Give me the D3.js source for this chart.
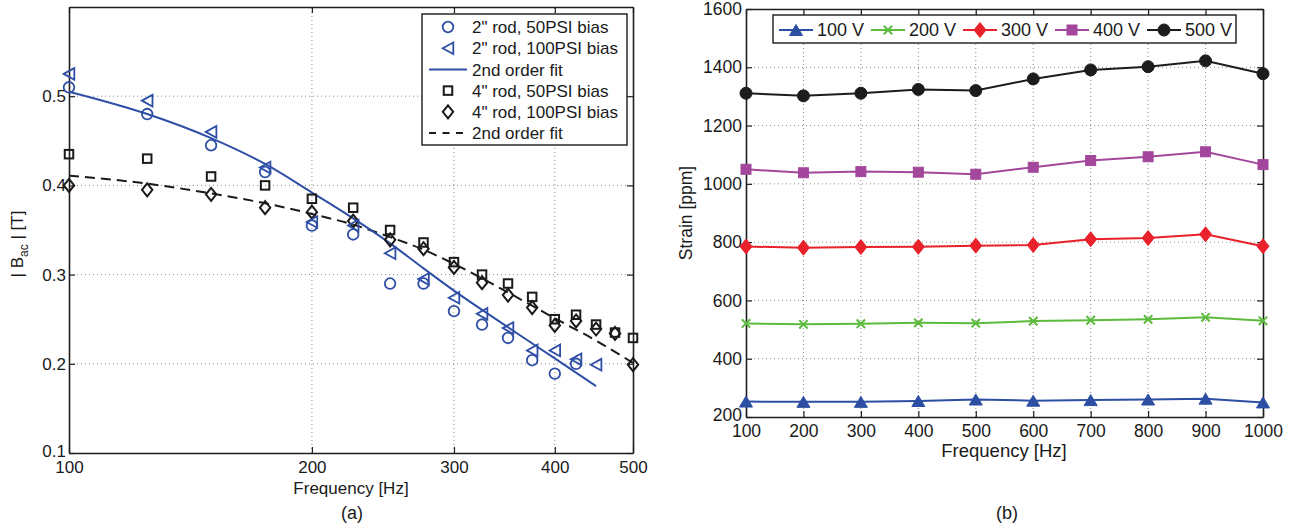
<!DOCTYPE html>
<html>
<head>
<meta charset="utf-8">
<script src="https://cdn.jsdelivr.net/npm/d3@7"></script>
<style>
  html, body { margin: 0; padding: 0; background: #fff; }
  svg { display: block; font-family: "Liberation Sans", Arial, Helvetica, sans-serif; }
</style>
</head>
<body>
<svg id="chart" width="1292" height="528"></svg>
<script>
// ---------------- DATA: left panel (a) ----------------
const freq2in50 = [100,125,150,175,200,225,250,275,300,325,350,375,400,425];
const bac2in50  = [0.51,0.48,0.445,0.415,0.355,0.345,0.29,0.29,0.259,0.244,0.229,0.204,0.189,0.2];
const freq2in100 = [100,125,150,175,200,225,250,275,300,325,350,375,400,425,450];
const bac2in100  = [0.525,0.495,0.46,0.42,0.359,0.355,0.324,0.295,0.274,0.256,0.24,0.215,0.215,0.205,0.199];
const fitFreq2in = [100,125,150,175,200,225,250,275,300,350,400,450];
const fitBac2in  = [0.505,0.480,0.453,0.424,0.392,0.363,0.335,0.307,0.282,0.241,0.206,0.175];
const freq4in = [100,125,150,175,200,225,250,275,300,325,350,375,400,425,450,475,500];
const bac4in50  = [0.435,0.43,0.41,0.40,0.385,0.375,0.35,0.336,0.314,0.30,0.29,0.275,0.25,0.255,0.244,0.235,0.229];
const bac4in100 = [0.40,0.395,0.39,0.375,0.37,0.36,0.339,0.329,0.308,0.291,0.277,0.263,0.243,0.248,0.239,0.234,0.199];
const fitFreq4in = [100,125,150,175,200,225,250,275,300,350,400,450,500];
const fitBac4in  = [0.411,0.402,0.391,0.380,0.368,0.356,0.342,0.328,0.312,0.280,0.251,0.226,0.201];
const xTicksA = [100,200,300,400,500];
const yTicksA = [0.1,0.2,0.3,0.4,0.5];
const legendA = ['2" rod, 50PSI bias','2" rod, 100PSI bias','2nd order fit','4" rod, 50PSI bias','4" rod, 100PSI bias','2nd order fit'];

// ---------------- DATA: right panel (b) ----------------
const freqB = [100,200,300,400,500,600,700,800,900,1000];
const strain100V = [253,252,252,255,260,256,258,260,263,250];
const strain200V = [521,518,520,523,522,529,532,535,542,530];
const strain300V = [785,781,783,784,788,790,810,814,827,786];
const strain400V = [1050,1038,1042,1040,1033,1057,1080,1093,1110,1066];
const strain500V = [1311,1302,1311,1324,1320,1360,1391,1402,1422,1378];
const seriesNamesB = ['100 V','200 V','300 V','400 V','500 V'];
const xTicksB = [100,200,300,400,500,600,700,800,900,1000];
const yTicksB = [200,400,600,800,1000,1200,1400,1600];

// ---------------- STYLE ----------------
const BLUE = '#2f4fa6', AXC = '#1e1e1e', GRID = '#8a8a8a';
const colorsB = ['#2c4ea3','#5cba3d','#e8212b','#a2479c','#1c1c1c'];
const svg = d3.select('#chart');

function drawFrame(g, x, y, xt, yt, fs, xFmt, yFmt, pad) {
  const [x0, x1] = x.range(), [y0, y1] = y.range();
  g.append('g').selectAll('line').data(xt.filter(d => x(d) > x0 + 1 && x(d) < x1 - 1)).join('line')
    .attr('x1', d => x(d)).attr('x2', d => x(d)).attr('y1', y0).attr('y2', y1)
    .attr('stroke', GRID).attr('stroke-width', 1).attr('stroke-dasharray', '1,3');
  g.append('g').selectAll('line').data(yt.filter(d => y(d) < y0 - 1 && y(d) > y1 + 1)).join('line')
    .attr('y1', d => y(d)).attr('y2', d => y(d)).attr('x1', x0).attr('x2', x1)
    .attr('stroke', GRID).attr('stroke-width', 1).attr('stroke-dasharray', '1,3');
  const ax = [
    g.append('g').attr('transform', `translate(0,${y0})`).call(d3.axisBottom(x).tickValues(xt).tickFormat(xFmt).tickSizeInner(-6).tickSizeOuter(0).tickPadding(pad.x)),
    g.append('g').attr('transform', `translate(0,${y1})`).call(d3.axisTop(x).tickValues(xt).tickFormat('').tickSizeInner(-6).tickSizeOuter(0)),
    g.append('g').attr('class', 'yleft').attr('transform', `translate(${x0},0)`).call(d3.axisLeft(y).tickValues(yt).tickFormat(yFmt).tickSizeInner(-6).tickSizeOuter(0).tickPadding(pad.y)),
    g.append('g').attr('transform', `translate(${x1},0)`).call(d3.axisRight(y).tickValues(yt).tickFormat('').tickSizeInner(-6).tickSizeOuter(0))
  ];
  ax.forEach(a => {
    a.select('.domain').attr('stroke', AXC).attr('stroke-width', 1.6);
    a.selectAll('.tick line').attr('stroke', AXC).attr('stroke-width', 1.2);
    a.selectAll('.tick text').attr('fill', '#1a1a1a').style('font-size', fs + 'px').style('font-family', '"Liberation Sans", Arial, sans-serif');
  });
  // lowest y label sits slightly above the corner, as in the original
  ax[2].selectAll('.tick text').filter(d => d === yt[0]).attr('dy', '0.2em');
}

function triLeft(w, h) { return `M${-w},0L${w},${-h}L${w},${h}Z`; }
function triUp(w, h) { return `M0,${-h}L${w},${h}L${-w},${h}Z`; }
function diamond(w, h) { return `M0,${-h}L${w},0L0,${h}L${-w},0Z`; }

function marker(g, type, cx, cy, color, filled) {
  const fill = filled ? color : 'none';
  const sw = filled ? 1 : 1.8;
  if (type === 'circle') {
    g.append('circle').attr('cx', cx).attr('cy', cy).attr('r', filled ? 6 : 5.3)
      .attr('fill', fill).attr('stroke', color).attr('stroke-width', sw);
  } else if (type === 'triLeft') {
    g.append('path').attr('d', triLeft(5.3, 5.8)).attr('transform', `translate(${cx},${cy})`)
      .attr('fill', fill).attr('stroke', color).attr('stroke-width', sw).attr('stroke-linejoin', 'miter');
  } else if (type === 'triUp') {
    g.append('path').attr('d', triUp(6.5, 5.5)).attr('transform', `translate(${cx},${cy})`)
      .attr('fill', fill).attr('stroke', color).attr('stroke-width', sw);
  } else if (type === 'square') {
    const s = filled ? 10 : 8.5;
    g.append('rect').attr('x', cx - s / 2).attr('y', cy - s / 2).attr('width', s).attr('height', s)
      .attr('fill', fill).attr('stroke', color).attr('stroke-width', filled ? 1 : 2);
  } else if (type === 'diamond') {
    g.append('path').attr('d', filled ? diamond(6, 7.5) : diamond(5.2, 6.5)).attr('transform', `translate(${cx},${cy})`)
      .attr('fill', fill).attr('stroke', color).attr('stroke-width', filled ? 1 : 2);
  } else if (type === 'x') {
    const s = 4.2;
    g.append('path').attr('d', `M${-s},${-s}L${s},${s}M${-s},${s}L${s},${-s}`).attr('transform', `translate(${cx},${cy})`)
      .attr('fill', 'none').attr('stroke', color).attr('stroke-width', 2);
  }
}

// ================= PANEL (a) =================
const xA = d3.scaleLog().domain([100, 500]).range([69, 633]);
const yA = d3.scaleLinear().domain([0.1, 0.6]).range([453, 7]);
const gA = svg.append('g');
drawFrame(gA, xA, yA, xTicksA, yTicksA, 17, d3.format('d'), d => d3.format('.1f')(d), {x: 8, y: 3});

const lineA = d3.line().x(d => xA(d[0])).y(d => yA(d[1])).curve(d3.curveMonotoneX);
gA.append('path').datum(d3.zip(fitFreq4in, fitBac4in)).attr('d', lineA)
  .attr('fill', 'none').attr('stroke', '#1a1a1a').attr('stroke-width', 2).attr('stroke-dasharray', '10,6');
gA.append('path').datum(d3.zip(fitFreq2in, fitBac2in)).attr('d', lineA)
  .attr('fill', 'none').attr('stroke', BLUE).attr('stroke-width', 2);

const mA = gA.append('g');
freq4in.forEach((f, i) => marker(mA, 'square', xA(f), yA(bac4in50[i]), '#1a1a1a', false));
freq4in.forEach((f, i) => marker(mA, 'diamond', xA(f), yA(bac4in100[i]), '#1a1a1a', false));
freq2in50.forEach((f, i) => marker(mA, 'circle', xA(f), yA(bac2in50[i]), BLUE, false));
freq2in100.forEach((f, i) => marker(mA, 'triLeft', xA(f), yA(bac2in100[i]), BLUE, false));

const lgA = gA.append('g');
lgA.append('rect').attr('x', 422).attr('y', 14).attr('width', 205).attr('height', 131)
  .attr('fill', '#fff').attr('stroke', '#1a1a1a').attr('stroke-width', 1.4);
const legTypesA = ['circle', 'triLeft', 'line', 'square', 'diamond', 'dash'];
const legColA = [BLUE, BLUE, BLUE, '#1a1a1a', '#1a1a1a', '#1a1a1a'];
legendA.forEach((t, i) => {
  const cy = 27 + i * 21.2;
  if (legTypesA[i] === 'line') {
    lgA.append('line').attr('x1', 429).attr('x2', 467).attr('y1', cy).attr('y2', cy).attr('stroke', legColA[i]).attr('stroke-width', 2);
  } else if (legTypesA[i] === 'dash') {
    lgA.append('line').attr('x1', 429).attr('x2', 467).attr('y1', cy).attr('y2', cy).attr('stroke', legColA[i]).attr('stroke-width', 2).attr('stroke-dasharray', '7,6.5');
  } else {
    marker(lgA, legTypesA[i], 448, cy, legColA[i], false);
  }
  lgA.append('text').attr('x', 472).attr('y', cy).attr('dy', '0.36em').style('font-size', '17px').attr('fill', '#1a1a1a').text(t);
});

gA.append('text').attr('x', 351).attr('y', 494).attr('text-anchor', 'middle').style('font-size', '17px').attr('fill', '#1a1a1a').text('Frequency [Hz]');
const ylabA = gA.append('text').attr('transform', 'translate(23,244) rotate(-90)').attr('text-anchor', 'middle').style('font-size', '17px').attr('fill', '#1a1a1a');
ylabA.append('tspan').text('| B');
ylabA.append('tspan').attr('dy', 5).style('font-size', '12px').text('ac');
ylabA.append('tspan').attr('dy', -5).text(' | [T]');
gA.append('text').attr('x', 352).attr('y', 519).attr('text-anchor', 'middle').style('font-size', '18px').attr('fill', '#1a1a1a').text('(a)');

// ================= PANEL (b) =================
const xB = d3.scaleLinear().domain([100, 1000]).range([746, 1263]);
const yB = d3.scaleLinear().domain([200, 1600]).range([417, 9]);
const gB = svg.append('g');
drawFrame(gB, xB, yB, xTicksB, yTicksB, 17.5, d3.format('d'), d3.format('d'), {x: 8, y: 4});

const seriesB = [strain100V, strain200V, strain300V, strain400V, strain500V];
const markB = ['triUp', 'x', 'diamond', 'square', 'circle'];
const lineB = d3.line().x((d, i) => xB(freqB[i])).y(d => yB(d));
seriesB.forEach((s, k) => {
  gB.append('path').datum(s).attr('d', lineB).attr('fill', 'none').attr('stroke', colorsB[k]).attr('stroke-width', 2);
  const mg = gB.append('g');
  s.forEach((v, i) => marker(mg, markB[k], xB(freqB[i]), yB(v), colorsB[k], true));
});

const lgB = gB.append('g');
lgB.append('rect').attr('x', 773).attr('y', 15).attr('width', 463).attr('height', 28)
  .attr('fill', '#fff').attr('stroke', '#1a1a1a').attr('stroke-width', 1.4);
seriesNamesB.forEach((t, k) => {
  const x0 = 779 + k * 92, cy = 30;
  lgB.append('line').attr('x1', x0).attr('x2', x0 + 34).attr('y1', cy).attr('y2', cy).attr('stroke', colorsB[k]).attr('stroke-width', 2);
  marker(lgB, markB[k], x0 + 17, cy, colorsB[k], true);
  lgB.append('text').attr('x', x0 + 38).attr('y', cy).attr('dy', '0.36em').style('font-size', '18px').attr('fill', '#1a1a1a').text(t);
});

gB.append('text').attr('x', 1004).attr('y', 457).attr('text-anchor', 'middle').style('font-size', '18.5px').attr('fill', '#1a1a1a').text('Frequency [Hz]');
gB.append('text').attr('transform', 'translate(692,213) rotate(-90)').attr('text-anchor', 'middle').style('font-size', '17.5px').attr('fill', '#1a1a1a').text('Strain [ppm]');
gB.append('text').attr('x', 1007).attr('y', 519).attr('text-anchor', 'middle').style('font-size', '18px').attr('fill', '#1a1a1a').text('(b)');
</script>
</body>
</html>
